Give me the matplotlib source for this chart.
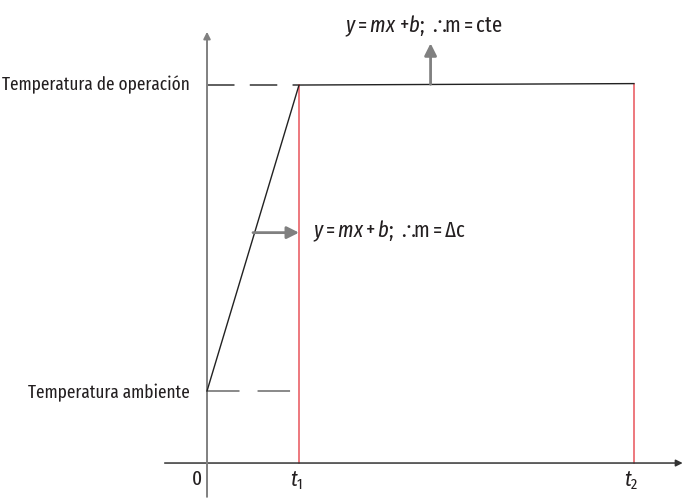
import matplotlib.pyplot as plt
import matplotlib as mpl

fam = 'Fira Sans Extra Condensed'
mpl.rcParams['font.family'] = [fam, 'DejaVu Sans']
mpl.rcParams['mathtext.fontset'] = 'custom'
mpl.rcParams['mathtext.rm'] = fam
mpl.rcParams['mathtext.it'] = fam + ':italic'
mpl.rcParams['mathtext.fallback'] = 'stixsans'

# time points (arbitrary units) and temperature levels
t_points = [0.0, 1.0, 4.64]
temp_points = [1.0, 5.25, 5.27]
t_labels = ['0', '$t_1$', '$t_2$']
temp_labels = ['Temperatura ambiente', 'Temperatura de operación']
eq_ramp = r'$y = mx + b;\ \!\therefore\!\!\mathrm{m} = \Delta\mathrm{c}$'
eq_flat = r'$y = mx\ {+}b;\ \!\therefore\!\!\mathrm{m}{=}\mathrm{cte}$'

txt = '#231f20'
grey = '#808080'
red = '#e8545a'

fig = plt.figure(figsize=(6.88, 5.04), dpi=100)
ax = fig.add_axes([0, 0, 1, 1])
ax.set_xlim(-2.25, 5.228)
ax.set_ylim(-0.569, 6.431)
ax.axis('off')

# axes with arrows
ax.annotate('', xy=(5.17, 0), xytext=(-0.46, 0),
            arrowprops=dict(arrowstyle='-|>', color='#333333', lw=1.1,
                            mutation_scale=10, shrinkA=0, shrinkB=0))
ax.annotate('', xy=(0, 5.99), xytext=(0, -0.47),
            arrowprops=dict(arrowstyle='-|>', color=grey, lw=1.4,
                            mutation_scale=10, shrinkA=0, shrinkB=0))

# temperature curve
ax.plot(t_points, temp_points, color='#222222', lw=1.0, zorder=3)

# red verticals at t1, t2
for i in (1, 2):
    ax.plot([t_points[i], t_points[i]], [0, temp_points[i]], color=red, lw=1.1, zorder=2)

# dashed guides
ax.plot([0, t_points[1]], [temp_points[0]] * 2, color=grey, lw=1.3,
        dashes=(18, 10), zorder=1)
ax.plot([0, t_points[1]], [temp_points[1]] * 2, color='#333333', lw=1.1,
        dashes=(18, 10), zorder=1)

# y labels
ax.text(-0.19, temp_points[1], temp_labels[1], ha='right', va='center',
        fontsize=13.5, color=txt)
ax.text(-0.19, temp_points[0] - 0.03, temp_labels[0], ha='right', va='center',
        fontsize=13.5, color=txt)

# x labels
ax.text(-0.11, -0.22, t_labels[0], ha='center', va='center', fontsize=15, color=txt)
for i in (1, 2):
    ax.text(t_points[i] - 0.03, -0.24, t_labels[i], ha='center', va='center',
            fontsize=16, color=txt)

# slope arrows
ax.annotate('', xy=(t_points[1], 3.2), xytext=(0.5, 3.2),
            arrowprops=dict(arrowstyle='-|>', color=grey, lw=2,
                            mutation_scale=18, shrinkA=0, shrinkB=0))
ax.text(1.15, 3.22, eq_ramp, ha='left', va='center', fontsize=16, color=txt)

x_up = 2.43
ax.annotate('', xy=(x_up, 5.83), xytext=(x_up, 5.26),
            arrowprops=dict(arrowstyle='-|>', color=grey, lw=2,
                            mutation_scale=18, shrinkA=0, shrinkB=0))
ax.text(x_up - 0.08, 6.07, eq_flat, ha='center', va='center', fontsize=16, color=txt)

fig.savefig('out.png', dpi=100)
